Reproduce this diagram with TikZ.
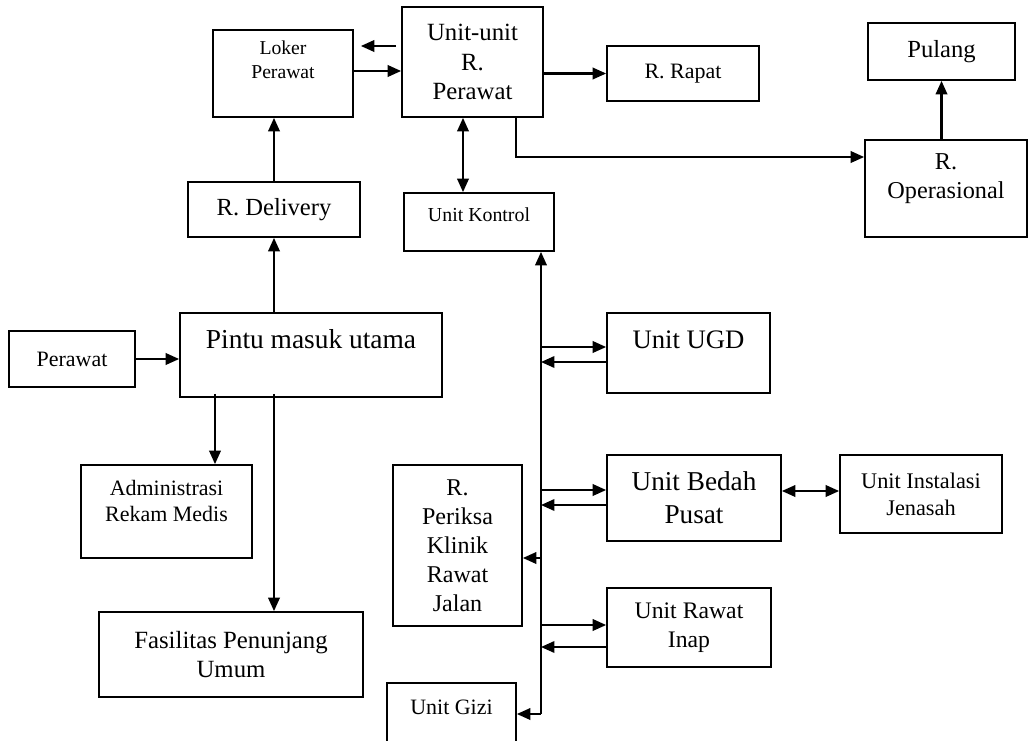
\documentclass[tikz,border=0pt]{standalone}
\usepackage{fontspec}
\setmainfont{Liberation Serif}
\usepackage{tikz}
\usetikzlibrary{arrows.meta}

\tikzset{
  box/.style={draw, line width=1pt, inner sep=0pt, align=center},
  fs/.style={font={\pgfmathsetmacro\fbskip{1.2*#1}\fontsize{#1}{\fbskip}\selectfont}},
  arr/.style={line width=1.2pt, -{Triangle[length=0.27cm, width=0.23cm]}},
  arrr/.style={line width=1.2pt, {Triangle[length=0.27cm, width=0.23cm]}-{Triangle[length=0.27cm, width=0.23cm]}},
}

\begin{document}
\begin{tikzpicture}[x=0.02cm, y=-0.02cm]
\clip (0,0) rectangle (1030,740);
% rooms
\node[box, minimum width=2.8cm, minimum height=1.74cm] (loker) at (283,73.5) {};
\node[box, fs=14.1, minimum width=2.82cm, minimum height=2.2cm] (unit) at (472.5,62) {Unit-unit\\R.\\Perawat};
\node[box, fs=12.5, minimum width=3.04cm, minimum height=1.1cm] (rapat) at (683,73.5) {R. Rapat};
\node[box, fs=14, minimum width=2.94cm, minimum height=1.14cm] (pulang) at (941.5,51.5) {Pulang};
\node[box, minimum width=3.24cm, minimum height=1.94cm] (operasional) at (946,188.5) {};
\node[box, fs=14, minimum width=3.44cm, minimum height=1.1cm] (delivery) at (274,209.5) {R. Delivery};
\node[box, minimum width=3cm, minimum height=1.16cm] (kontrol) at (479,222) {};
\node[box, minimum width=5.24cm, minimum height=1.68cm] (pintu) at (311,355) {};
\node[box, fs=12.5, minimum width=2.52cm, minimum height=1.12cm] (perawat) at (72,359) {Perawat};
\node[box, minimum width=3.42cm, minimum height=1.86cm] (admin) at (166.5,511.5) {};
\node[box, fs=14.1, minimum width=5.28cm, minimum height=1.7cm] (fasilitas) at (231,654.5) {Fasilitas Penunjang\\Umum};
\node[box, fs=13.7, minimum width=2.58cm, minimum height=3.22cm] (periksa) at (457.5,545.5) {R.\\Periksa\\Klinik\\Rawat\\Jalan};
\node[box, minimum width=3.26cm, minimum height=1.6cm] (ugd) at (688.5,353) {};
\node[box, fs=15.5, minimum width=3.48cm, minimum height=1.72cm] (bedah) at (694,498) {Unit Bedah\\Pusat};
\node[box, fs=12.7, minimum width=3.24cm, minimum height=1.56cm] (jenasah) at (921,494) {Unit Instalasi\\Jenasah};
\node[box, fs=13.5, minimum width=3.28cm, minimum height=1.58cm] (inap) at (689,627.5) {Unit Rawat\\Inap};
\node[box, minimum width=2.58cm, minimum height=1.24cm] (gizi) at (451.5,714) {};
% labels
\node[fs=11.2, align=center] (loker-t) at ([yshift=0.27cm]loker.center) {Loker\\Perawat};
\node[fs=13.8, align=center] (operasional-t) at ([yshift=0.2cm]operasional.center) {R.\\Operasional};
\node[fs=11.3] (kontrol-t) at ([yshift=0.14cm]kontrol.center) {Unit Kontrol};
\node[fs=15.6] (pintu-t) at ([yshift=0.32cm]pintu.center) {Pintu masuk utama};
\node[fs=12.5, align=center] (admin-t) at ([yshift=0.21cm]admin.center) {Administrasi\\Rekam Medis};
\node[fs=15.2] (ugd-t) at ([yshift=0.26cm]ugd.center) {Unit UGD};
\node[fs=12.5] (gizi-t) at ([yshift=0.14cm]gizi.center) {Unit Gizi};
\coordinate (bustop) at ([xshift=1.24cm]kontrol.south);
% edges
\draw[arr] ([yshift=0.32cm, xshift=-0.1cm]unit.west) -- ([yshift=0.32cm, xshift=0.14cm]unit.west -| loker.east);
\draw[arr] ([yshift=0.05cm]loker.east) -- ([yshift=0.05cm]loker.east -| unit.west);
\draw[arr] (unit.east |- rapat.west) -- (rapat.west);
\draw[arrr] ([xshift=-0.19cm]unit.south) -- ([xshift=-0.19cm]unit.south |- kontrol.north);
\draw[arr] ([xshift=0.87cm]unit.south) |- ([yshift=0.63cm]operasional.west);
\draw[arr] (operasional.north -| pulang.south) -- (pulang.south);
\draw[arr] (delivery.north) -- (delivery.north |- loker.south);
\draw[arr] (delivery.south |- pintu.north) -- (delivery.south);
\draw[arr] (perawat.east) -- (perawat.east -| pintu.west);
\draw[arr] ([xshift=0.97cm, yshift=0.08cm]admin.north |- pintu.south) -- ([xshift=0.97cm]admin.north);
\draw[arr] ([yshift=0.08cm]delivery.south |- pintu.south) -- (delivery.south |- fasilitas.north);
\draw[arr] (bustop |- gizi.east) -- (bustop);
\draw[arr] (bustop |- gizi.east) -- (gizi.east);
\draw[arr] ([yshift=-0.25cm]periksa.east -| bustop) -- ([yshift=-0.25cm]periksa.east);
\foreach \n/\a/\b in {ugd/0.12/-0.18, bedah/0.16/-0.14, inap/0.05/-0.39}{
  \draw[arr] ([yshift=\a cm]\n.west -| bustop) -- ([yshift=\a cm]\n.west);
  \draw[arr] ([yshift=\b cm]\n.west) -- ([yshift=\b cm]\n.west -| bustop);
}
\draw[arrr] ([yshift=0.14cm]bedah.east) -- ([yshift=0.14cm]bedah.east -| jenasah.west);
\end{tikzpicture}
\end{document}
